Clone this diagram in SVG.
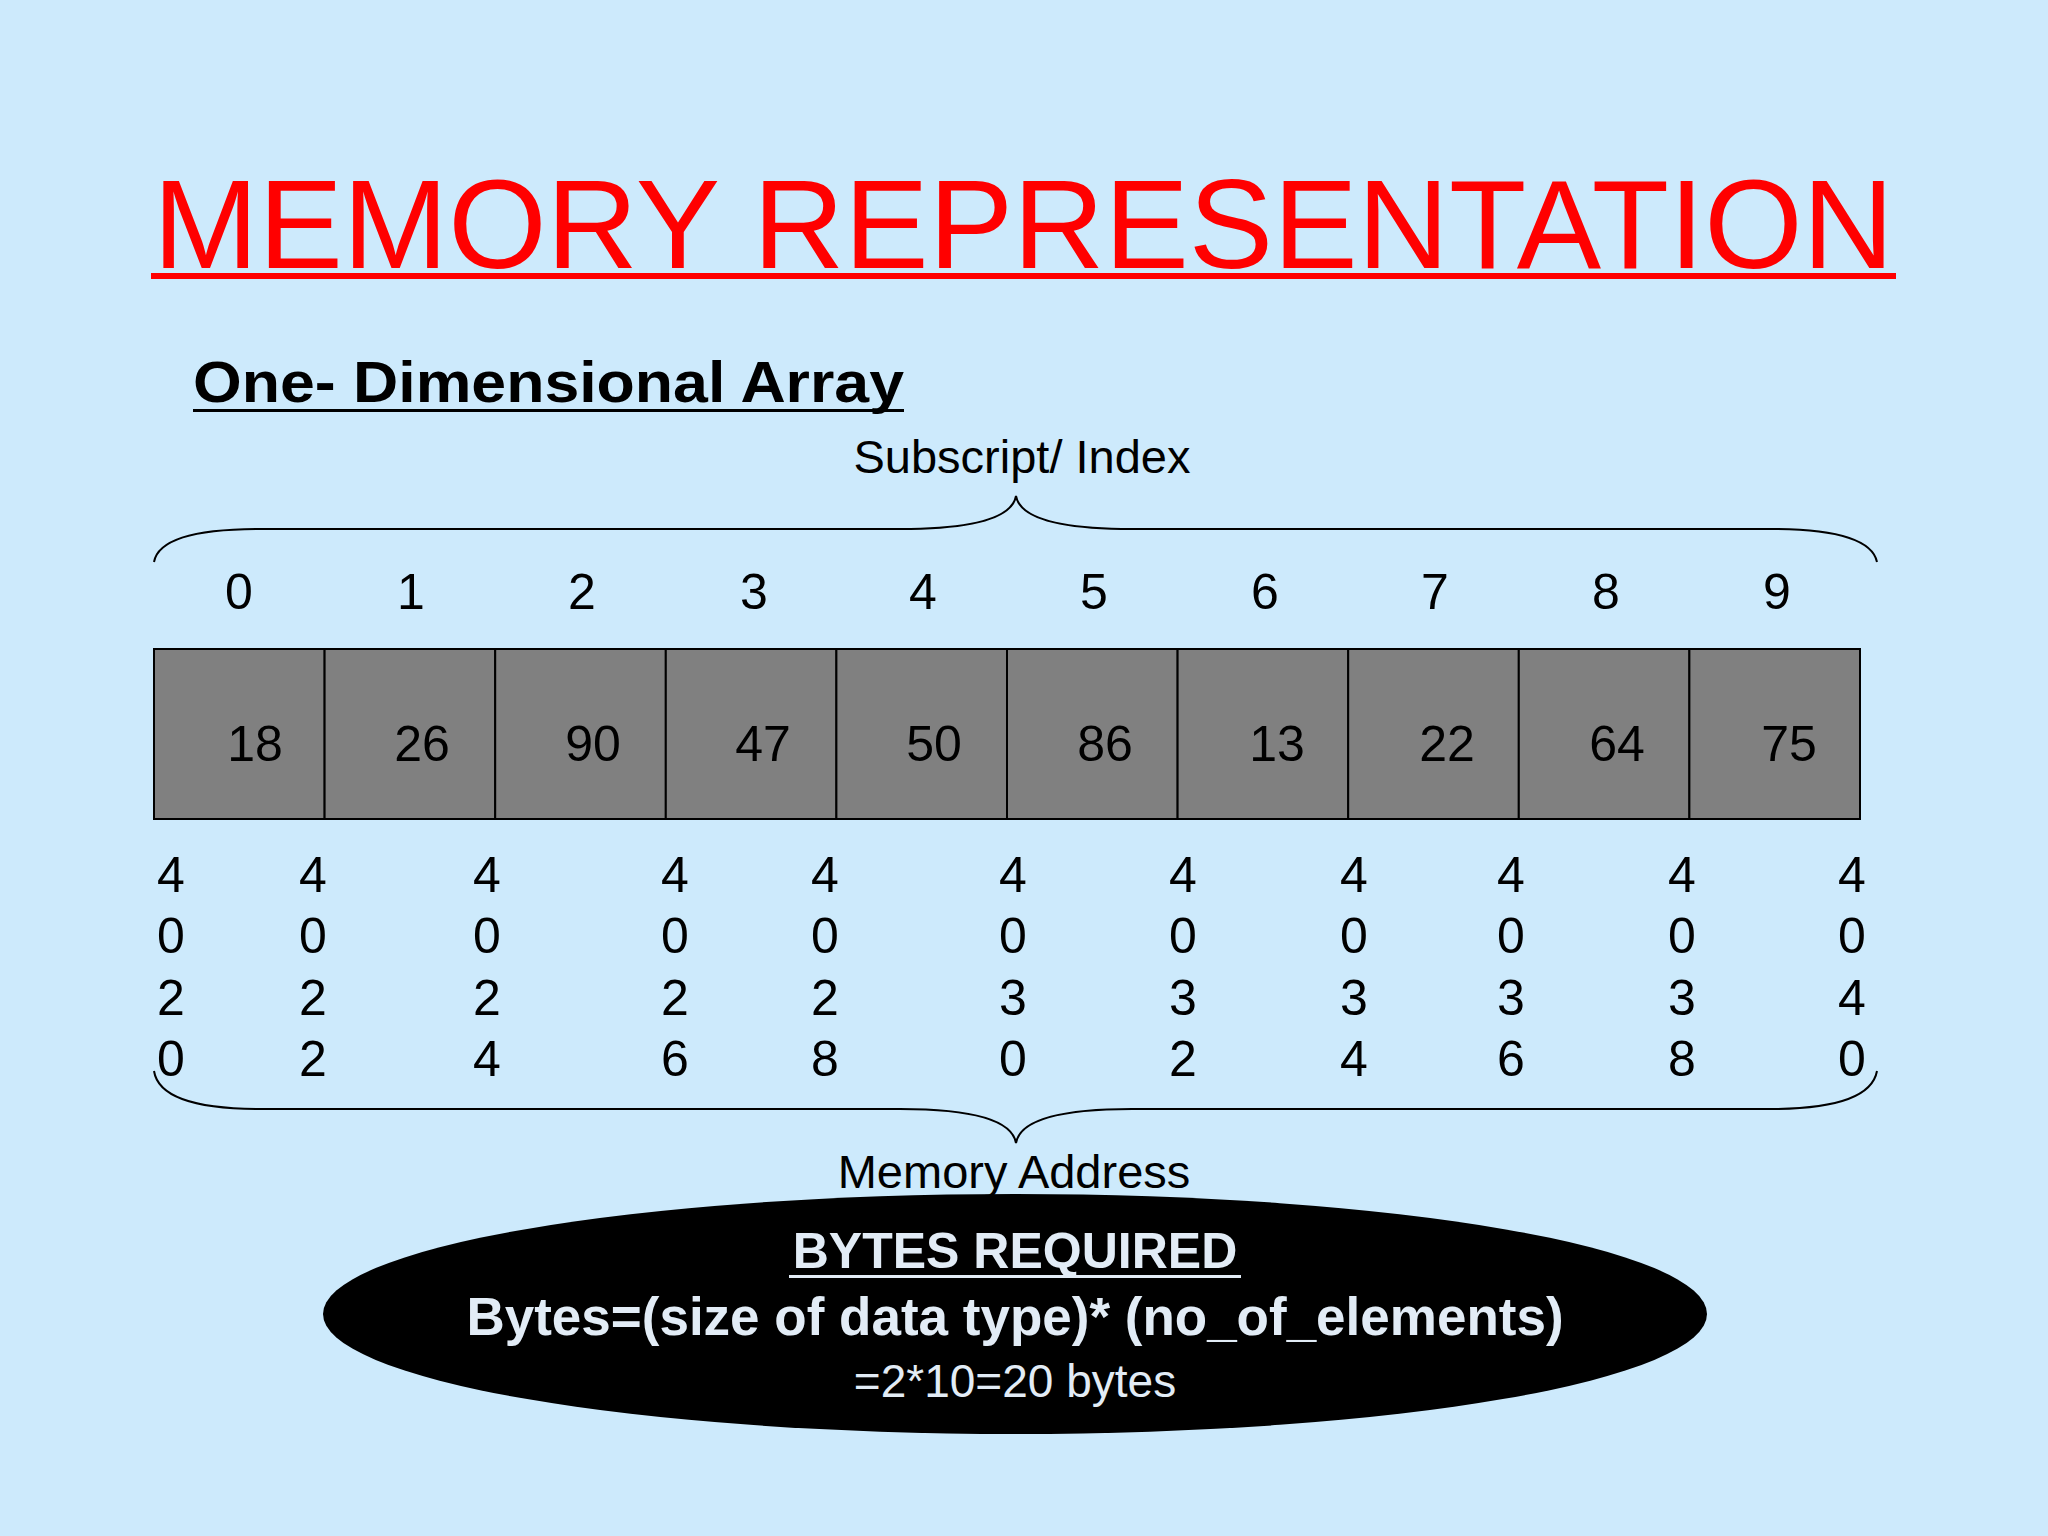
<svg xmlns="http://www.w3.org/2000/svg" width="2048" height="1536" viewBox="0 0 2048 1536">
<style>
text{font-family:"Liberation Sans",Arial,sans-serif}
.i{font-size:50px;fill:#000;text-anchor:middle}
.cell{fill:#808080;stroke:#000;stroke-width:2}
.br{fill:none;stroke:#000;stroke-width:2}
.w{fill:#e2ecf6;text-anchor:middle}
</style>
<rect width="2048" height="1536" fill="#cdeafc"/>
<g id="title">
<text x="153" y="268" font-size="127" fill="#ff0000" textLength="1741" lengthAdjust="spacingAndGlyphs">MEMORY REPRESENTATION</text>
<rect x="151" y="273" width="1745" height="6" fill="#ff0000"/>
</g>
<g id="subtitle">
<text x="193" y="402" font-size="57" font-weight="bold" textLength="711" lengthAdjust="spacingAndGlyphs">One- Dimensional Array</text>
<rect x="193" y="409" width="711" height="3" fill="#000"/>
</g>
<g id="index-label"><text x="1022" y="473" font-size="47" text-anchor="middle">Subscript/ Index</text></g>
<g id="connectors">
<path class="br" d="M154 562 Q160 529 260 529 L900 529 Q1010 529 1016 496 Q1022 529 1132 529 L1770 529 Q1870 529 1877 562"/>
<path class="br" d="M154 1071 Q160 1109 260 1109 L900 1109 Q1010 1109 1016 1143 Q1022 1109 1132 1109 L1770 1109 Q1870 1109 1877 1071"/>
</g>
<g id="indices">
<text class="i" x="239" y="609">0</text><text class="i" x="411" y="609">1</text><text class="i" x="582" y="609">2</text><text class="i" x="754" y="609">3</text><text class="i" x="923" y="609">4</text><text class="i" x="1094" y="609">5</text><text class="i" x="1265" y="609">6</text><text class="i" x="1435" y="609">7</text><text class="i" x="1606" y="609">8</text><text class="i" x="1777" y="609">9</text>
</g>
<g id="array">
<rect class="cell" x="154" y="649" width="170.6" height="170"/>
<rect class="cell" x="324.6" y="649" width="170.6" height="170"/>
<rect class="cell" x="495.2" y="649" width="170.6" height="170"/>
<rect class="cell" x="665.8" y="649" width="170.6" height="170"/>
<rect class="cell" x="836.4" y="649" width="170.6" height="170"/>
<rect class="cell" x="1007" y="649" width="170.6" height="170"/>
<rect class="cell" x="1177.6" y="649" width="170.6" height="170"/>
<rect class="cell" x="1348.2" y="649" width="170.6" height="170"/>
<rect class="cell" x="1518.8" y="649" width="170.6" height="170"/>
<rect class="cell" x="1689.4" y="649" width="170.6" height="170"/>
<text class="i" x="255" y="761">18</text><text class="i" x="422" y="761">26</text><text class="i" x="593" y="761">90</text><text class="i" x="763" y="761">47</text><text class="i" x="934" y="761">50</text><text class="i" x="1105" y="761">86</text><text class="i" x="1277" y="761">13</text><text class="i" x="1447" y="761">22</text><text class="i" x="1617" y="761">64</text><text class="i" x="1789" y="761">75</text>
</g>
<g id="addresses">
<text class="i" x="171" y="892">4</text><text class="i" x="171" y="953">0</text><text class="i" x="171" y="1015">2</text><text class="i" x="171" y="1076">0</text>
<text class="i" x="313" y="892">4</text><text class="i" x="313" y="953">0</text><text class="i" x="313" y="1015">2</text><text class="i" x="313" y="1076">2</text>
<text class="i" x="487" y="892">4</text><text class="i" x="487" y="953">0</text><text class="i" x="487" y="1015">2</text><text class="i" x="487" y="1076">4</text>
<text class="i" x="675" y="892">4</text><text class="i" x="675" y="953">0</text><text class="i" x="675" y="1015">2</text><text class="i" x="675" y="1076">6</text>
<text class="i" x="825" y="892">4</text><text class="i" x="825" y="953">0</text><text class="i" x="825" y="1015">2</text><text class="i" x="825" y="1076">8</text>
<text class="i" x="1013" y="892">4</text><text class="i" x="1013" y="953">0</text><text class="i" x="1013" y="1015">3</text><text class="i" x="1013" y="1076">0</text>
<text class="i" x="1183" y="892">4</text><text class="i" x="1183" y="953">0</text><text class="i" x="1183" y="1015">3</text><text class="i" x="1183" y="1076">2</text>
<text class="i" x="1354" y="892">4</text><text class="i" x="1354" y="953">0</text><text class="i" x="1354" y="1015">3</text><text class="i" x="1354" y="1076">4</text>
<text class="i" x="1511" y="892">4</text><text class="i" x="1511" y="953">0</text><text class="i" x="1511" y="1015">3</text><text class="i" x="1511" y="1076">6</text>
<text class="i" x="1682" y="892">4</text><text class="i" x="1682" y="953">0</text><text class="i" x="1682" y="1015">3</text><text class="i" x="1682" y="1076">8</text>
<text class="i" x="1852" y="892">4</text><text class="i" x="1852" y="953">0</text><text class="i" x="1852" y="1015">4</text><text class="i" x="1852" y="1076">0</text>
</g>
<g id="memory-label"><text x="1014" y="1188" font-size="47" text-anchor="middle">Memory Address</text></g>
<g id="bytes">
<ellipse cx="1015" cy="1314" rx="692" ry="120" fill="#000"/>
<text class="w" x="1015" y="1268" font-size="50" font-weight="bold">BYTES REQUIRED</text>
<rect x="789" y="1275" width="452" height="3" fill="#e2ecf6"/>
<text class="w" x="1015" y="1335" font-size="53" font-weight="bold">Bytes=(size of data type)* (no_of_elements)</text>
<text class="w" x="1015" y="1397" font-size="46">=2*10=20 bytes</text>
</g>
</svg>
